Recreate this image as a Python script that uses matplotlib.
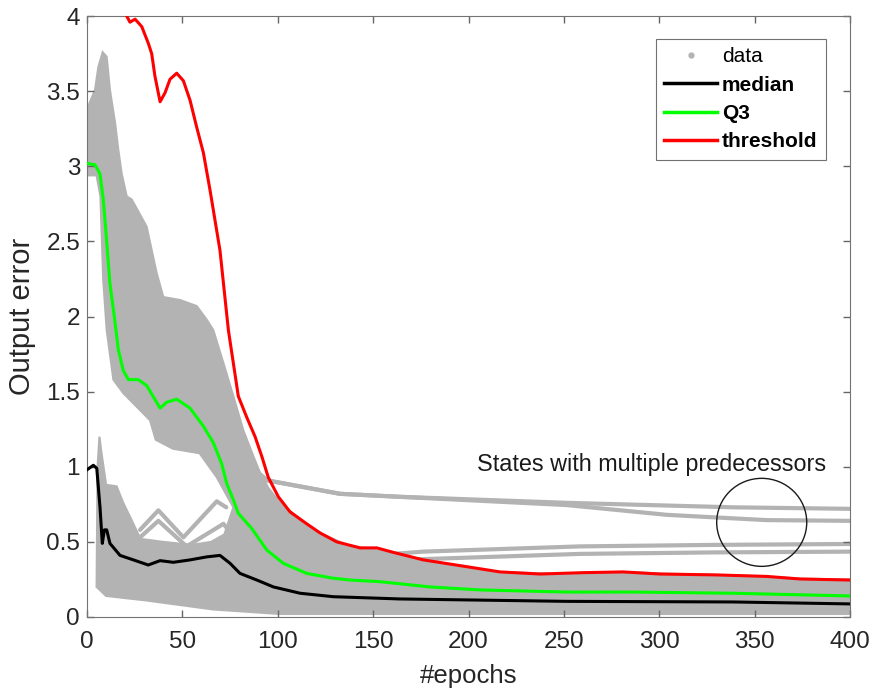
import matplotlib
matplotlib.use('Agg')
import matplotlib.pyplot as plt
from matplotlib.patches import Ellipse, Polygon
from matplotlib.lines import Line2D
import numpy as np

plt.rcParams['font.family'] = ['Liberation Sans', 'DejaVu Sans']

# median / Q3 / threshold curves (epoch, error)
med_ep = [0, 3.3, 5.1, 6.8, 8, 9.1, 10.3, 12, 17.3, 24.3, 32.1, 38.3, 45.2, 54, 62.7, 69.7,
          75, 80.2, 89, 97.7, 111.7, 129.1, 164, 251.4, 338.8, 400]
med_val = [0.98, 1.01, 0.99, 0.73, 0.49, 0.58, 0.58, 0.49, 0.41, 0.38, 0.346, 0.375, 0.364, 0.38, 0.40, 0.41,
           0.357, 0.29, 0.246, 0.20, 0.158, 0.135, 0.12, 0.104, 0.10, 0.087]

q3_ep = [0, 4.2, 6.8, 8.5, 10, 12, 14.7, 16.4, 19, 21.7, 26.9, 31.3, 38.3, 41.8, 47, 54, 61, 66.2,
         70.6, 73.2, 76.7, 79.3, 86.3, 94.2, 102.9, 115.2, 129.1, 137.9, 153.6, 179.8, 206, 251.4,
         286.4, 338.8, 400]
q3_val = [3.02, 3.01, 2.95, 2.78, 2.55, 2.22, 1.96, 1.78, 1.64, 1.58, 1.58, 1.54, 1.39, 1.43, 1.45, 1.39, 1.27, 1.16,
          1.02, 0.89, 0.78, 0.69, 0.59, 0.446, 0.357, 0.29, 0.258, 0.246, 0.235, 0.20, 0.18, 0.166,
          0.166, 0.158, 0.14]

thr_ep = [18, 20.8, 22.5, 25.2, 28.7, 32.1, 33.9, 35.6, 38.3, 40.9, 43.5, 47, 50.5, 54, 57.5, 61,
          64.5, 69.7, 74.1, 76.7, 79.3, 83.7, 88.1, 91.6, 95, 100.3, 106.4, 115.2, 122.1, 130.9,
          143.1, 151.9, 160.6, 176.3, 199, 216.5, 237.5, 260, 281, 300.4, 330, 356.3, 373.8, 400]
thr_val = [4.08, 4.0, 3.96, 3.98, 3.93, 3.82, 3.75, 3.60, 3.43, 3.49, 3.58, 3.62, 3.57, 3.44, 3.26, 3.09,
           2.84, 2.44, 1.91, 1.69, 1.47, 1.33, 1.20, 1.07, 0.93, 0.80, 0.70, 0.62, 0.56, 0.50,
           0.46, 0.46, 0.43, 0.38, 0.335, 0.30, 0.286, 0.295, 0.30, 0.286, 0.28, 0.27, 0.253, 0.246]

# outline of the grey data cloud (upper edge left->right, then lower edge back)
cloud_ep = [-1, -1, 4.2, 5.9, 8.2, 10.3, 12, 14.7, 16.4, 18.2, 20.8, 23.4, 31.2, 36.5, 40, 48.8, 57.5,
            62.7, 66.2, 71.5, 76.7, 82, 87.2, 90.7, 95, 101.2, 118.6, 136, 153.6, 176, 200, 215, 240,
            260, 280, 300, 330, 356, 374, 400,
            400, 300, 200, 150, 101, 66, 31, 10, 5, 5.5, 6.5, 7.5, 10, 15.5, 19, 24.3, 28, 40, 55,
            65, 72, 76.7, 68, 59, 45, 36, 33, 19, 13.8, 10.3, 8.5, 7, 5]
cloud_val = [2.94, 3.35, 3.51, 3.66, 3.76, 3.73, 3.51, 3.29, 3.11, 2.95, 2.80, 2.78, 2.60, 2.29, 2.13, 2.11, 2.07,
             1.98, 1.91, 1.69, 1.47, 1.24, 1.07, 0.96, 0.86, 0.76, 0.58, 0.48, 0.44, 0.38, 0.33, 0.30, 0.29,
             0.29, 0.30, 0.29, 0.28, 0.27, 0.255, 0.25,
             0.02, 0.02, 0.02, 0.02, 0.02, 0.05, 0.11, 0.14, 0.2, 1.0, 1.2, 1.1, 0.88, 0.87, 0.76, 0.62, 0.52, 0.50, 0.48,
             0.50, 0.55, 0.73, 0.93, 1.09, 1.12, 1.18, 1.31, 1.49, 1.58, 1.91, 2.24, 2.8, 2.94]

# single runs standing out from the cloud
zig1_ep = [27.8, 37.4, 50.5, 68, 73]
zig1_val = [0.58, 0.71, 0.53, 0.77, 0.73]
zig2_ep = [27.8, 37.4, 52.2, 71.5, 76]
zig2_val = [0.53, 0.64, 0.47, 0.62, 0.55]
pred1_ep = [88, 94.2, 132.6, 164, 251.4, 338.8, 400]
pred1_val = [0.98, 0.91, 0.82, 0.80, 0.76, 0.73, 0.72]
pred2_ep = [88, 94.2, 132.6, 164, 251.4, 304, 356, 400]
pred2_val = [0.98, 0.91, 0.82, 0.80, 0.745, 0.68, 0.645, 0.64]
low1_ep = [140, 176, 258.5, 330, 400]
low1_val = [0.40, 0.435, 0.47, 0.48, 0.486]
low2_ep = [140, 164, 258.5, 330, 400]
low2_val = [0.36, 0.38, 0.42, 0.43, 0.435]

grey = '0.7'

fig = plt.figure(figsize=(8.73, 6.93), dpi=100)
ax = fig.add_axes([0.0997, 0.1097, 0.874, 0.867])

ax.add_patch(Polygon(np.column_stack([cloud_ep, cloud_val]), closed=True,
                     facecolor=grey, edgecolor=grey, lw=1.5, zorder=1))
for e, v in [(zig1_ep, zig1_val), (zig2_ep, zig2_val), (pred1_ep, pred1_val),
             (pred2_ep, pred2_val), (low1_ep, low1_val), (low2_ep, low2_val)]:
    ax.plot(e, v, color=grey, lw=3, solid_capstyle='round', solid_joinstyle='round', zorder=1)

ax.plot(med_ep, med_val, color='k', lw=2.2, zorder=3)
ax.plot(q3_ep, q3_val, color='#00ff00', lw=2.2, zorder=3)
ax.plot(thr_ep, thr_val, color='#ff0000', lw=2.2, zorder=3)

ax.add_patch(Ellipse((353.7, 0.63), 47.2, 0.586, fill=False, edgecolor='0.1', lw=1.0, zorder=4))
ax.text(204.3, 0.97, 'States with multiple predecessors', fontsize=16.8, color='0.1', va='baseline')

ax.set_xlim(0, 400)
ax.set_ylim(0, 4)
ax.set_xticks(np.arange(0, 401, 50))
ax.set_yticks(np.arange(0, 4.01, 0.5))
ax.set_yticklabels(['0', '0.5', '1', '1.5', '2', '2.5', '3', '3.5', '4'])
ax.tick_params(direction='in', length=5, width=1, top=True, right=True,
               labelsize=17.5, colors='0.4', labelcolor='0.15')
ax.tick_params(axis='x', pad=10)
ax.tick_params(axis='y', pad=5)
for s in ax.spines.values():
    s.set_color('0.45')
ax.set_xlabel('#epochs', fontsize=18.5, color='0.15', labelpad=8)
ax.set_ylabel('Output error', fontsize=21, color='0.15', labelpad=7)

handles = [Line2D([], [], color=grey, marker='.', ls='none', markersize=7),
           Line2D([], [], color='k', lw=2.5),
           Line2D([], [], color='#00ff00', lw=2.5),
           Line2D([], [], color='#ff0000', lw=2.5)]
leg = ax.legend(handles, ['data', 'median', 'Q3', 'threshold'], loc='upper right',
                bbox_to_anchor=(0.968, 0.962), borderaxespad=0, fontsize=15, frameon=True,
                fancybox=False, edgecolor='0.3', handlelength=2.5, handletextpad=0.25,
                borderpad=0.4, labelspacing=0.45)
leg.get_frame().set_linewidth(0.8)
for t in leg.get_texts()[1:]:
    t.set_fontweight('bold')

fig.savefig('out.png', dpi=100)
